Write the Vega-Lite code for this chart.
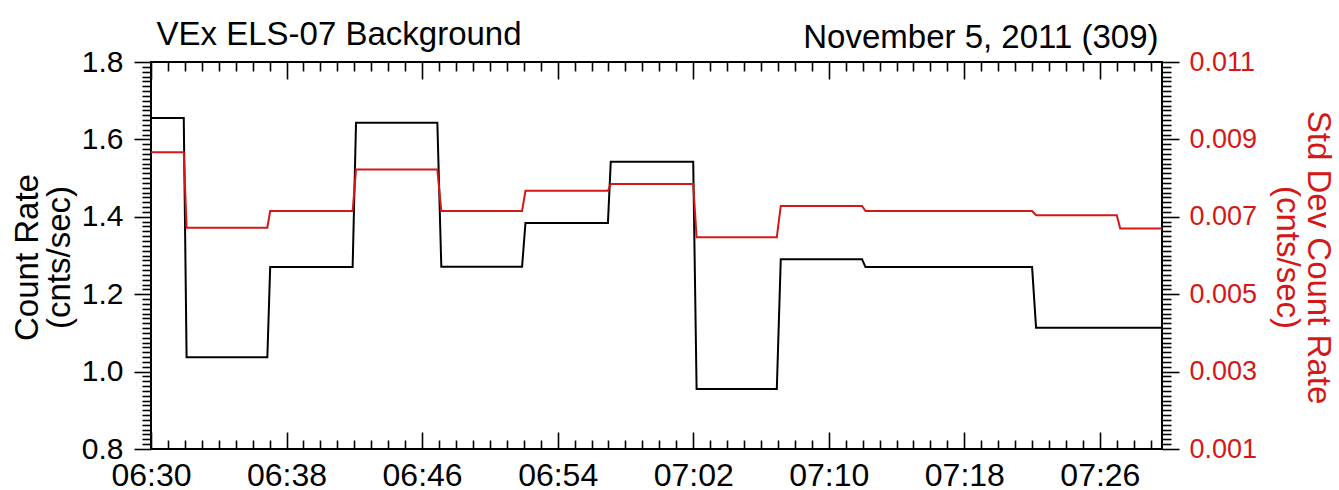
{
  "$schema": "https://vega.github.io/schema/vega-lite/v6.json",
  "autosize": {"type": "none"},
  "padding": {"left": 151, "top": 62, "right": 177, "bottom": 41},
  "width": 1011,
  "height": 387,
  "background": "white",
  "config": {
    "font": "Liberation Sans",
    "view": {"stroke": "black", "strokeWidth": 2},
    "axis": {"domain": false, "grid": false, "tickColor": "black", "tickWidth": 1.6, "labelColor": "black", "titleColor": "black", "titleFontWeight": "normal", "labelFont": "Liberation Sans", "titleFont": "Liberation Sans"}
  },
  "data": {"values": [
    {"t": "2011-11-05T06:30:00", "count": 1.655, "std": 0.00867},
    {"t": "2011-11-05T06:31:56", "count": 1.655, "std": 0.00867},
    {"t": "2011-11-05T06:32:06", "count": 1.037, "std": 0.00672},
    {"t": "2011-11-05T06:36:52", "count": 1.037, "std": 0.00672},
    {"t": "2011-11-05T06:37:02", "count": 1.270, "std": 0.00715},
    {"t": "2011-11-05T06:41:54", "count": 1.270, "std": 0.00715},
    {"t": "2011-11-05T06:42:06", "count": 1.643, "std": 0.00822},
    {"t": "2011-11-05T06:46:54", "count": 1.643, "std": 0.00822},
    {"t": "2011-11-05T06:47:08", "count": 1.271, "std": 0.00715},
    {"t": "2011-11-05T06:51:54", "count": 1.271, "std": 0.00715},
    {"t": "2011-11-05T06:52:06", "count": 1.384, "std": 0.00767},
    {"t": "2011-11-05T06:56:58", "count": 1.384, "std": 0.00767},
    {"t": "2011-11-05T06:57:08", "count": 1.542, "std": 0.00785},
    {"t": "2011-11-05T07:02:00", "count": 1.542, "std": 0.00785},
    {"t": "2011-11-05T07:02:12", "count": 0.955, "std": 0.00647},
    {"t": "2011-11-05T07:06:56", "count": 0.955, "std": 0.00647},
    {"t": "2011-11-05T07:07:10", "count": 1.290, "std": 0.00728},
    {"t": "2011-11-05T07:11:58", "count": 1.290, "std": 0.00728},
    {"t": "2011-11-05T07:12:10", "count": 1.270, "std": 0.00715},
    {"t": "2011-11-05T07:17:00", "count": 1.270, "std": 0.00715},
    {"t": "2011-11-05T07:22:00", "count": 1.270, "std": 0.00715},
    {"t": "2011-11-05T07:22:14", "count": 1.1135, "std": 0.00704},
    {"t": "2011-11-05T07:27:00", "count": 1.1135, "std": 0.00704},
    {"t": "2011-11-05T07:27:12", "count": 1.1135, "std": 0.00670},
    {"t": "2011-11-05T07:29:40", "count": 1.1135, "std": 0.00670}
  ]},
  "layer": [
    {
      "layer": [
        {
          "mark": {"type": "line", "color": "black", "strokeWidth": 2},
          "encoding": {
            "x": {"field": "t", "type": "temporal",
              "scale": {"domain": [{"year": 2011, "month": 11, "date": 5, "hours": 6, "minutes": 30}, {"year": 2011, "month": 11, "date": 5, "hours": 7, "minutes": 29, "seconds": 40}]},
              "axis": {"orient": "bottom", "title": null, "format": "%H:%M", "labelFlush": false, "labelOverlap": false,
                "values": [
                  {"year": 2011, "month": 11, "date": 5, "hours": 6, "minutes": 30},
                  {"year": 2011, "month": 11, "date": 5, "hours": 6, "minutes": 38},
                  {"year": 2011, "month": 11, "date": 5, "hours": 6, "minutes": 46},
                  {"year": 2011, "month": 11, "date": 5, "hours": 6, "minutes": 54},
                  {"year": 2011, "month": 11, "date": 5, "hours": 7, "minutes": 2},
                  {"year": 2011, "month": 11, "date": 5, "hours": 7, "minutes": 10},
                  {"year": 2011, "month": 11, "date": 5, "hours": 7, "minutes": 18},
                  {"year": 2011, "month": 11, "date": 5, "hours": 7, "minutes": 26}
                ],
                "tickSize": -17, "labelPadding": 53, "labelBaseline": "alphabetic", "labelFontSize": 32}},
            "y": {"field": "count", "type": "quantitative",
              "scale": {"domain": [0.8, 1.8], "zero": false, "nice": false},
              "axis": {"orient": "left", "values": [0.8, 1.0, 1.2, 1.4, 1.6, 1.8], "format": ".1f", "tickSize": 17, "labelPadding": 11, "labelFontSize": 30,
                "title": ["Count Rate", "(cnts/sec)"], "titleFontSize": 33, "titleAngle": 270, "titleX": -114, "titleY": 195, "titleAlign": "center", "titleBaseline": "alphabetic", "titleLineHeight": 32}}
          }
        },
        {
          "mark": {"type": "line", "opacity": 0},
          "encoding": {
            "x": {"field": "t", "type": "temporal",
              "axis": {"orient": "bottom", "title": null, "labels": false, "tickSize": -9,
                "values": [
                  {"year": 2011, "month": 11, "date": 5, "hours": 6, "minutes": 31}, {"year": 2011, "month": 11, "date": 5, "hours": 6, "minutes": 32}, {"year": 2011, "month": 11, "date": 5, "hours": 6, "minutes": 33}, {"year": 2011, "month": 11, "date": 5, "hours": 6, "minutes": 34}, {"year": 2011, "month": 11, "date": 5, "hours": 6, "minutes": 35}, {"year": 2011, "month": 11, "date": 5, "hours": 6, "minutes": 36}, {"year": 2011, "month": 11, "date": 5, "hours": 6, "minutes": 37},
                  {"year": 2011, "month": 11, "date": 5, "hours": 6, "minutes": 39}, {"year": 2011, "month": 11, "date": 5, "hours": 6, "minutes": 40}, {"year": 2011, "month": 11, "date": 5, "hours": 6, "minutes": 41}, {"year": 2011, "month": 11, "date": 5, "hours": 6, "minutes": 42}, {"year": 2011, "month": 11, "date": 5, "hours": 6, "minutes": 43}, {"year": 2011, "month": 11, "date": 5, "hours": 6, "minutes": 44}, {"year": 2011, "month": 11, "date": 5, "hours": 6, "minutes": 45},
                  {"year": 2011, "month": 11, "date": 5, "hours": 6, "minutes": 47}, {"year": 2011, "month": 11, "date": 5, "hours": 6, "minutes": 48}, {"year": 2011, "month": 11, "date": 5, "hours": 6, "minutes": 49}, {"year": 2011, "month": 11, "date": 5, "hours": 6, "minutes": 50}, {"year": 2011, "month": 11, "date": 5, "hours": 6, "minutes": 51}, {"year": 2011, "month": 11, "date": 5, "hours": 6, "minutes": 52}, {"year": 2011, "month": 11, "date": 5, "hours": 6, "minutes": 53},
                  {"year": 2011, "month": 11, "date": 5, "hours": 6, "minutes": 55}, {"year": 2011, "month": 11, "date": 5, "hours": 6, "minutes": 56}, {"year": 2011, "month": 11, "date": 5, "hours": 6, "minutes": 57}, {"year": 2011, "month": 11, "date": 5, "hours": 6, "minutes": 58}, {"year": 2011, "month": 11, "date": 5, "hours": 6, "minutes": 59}, {"year": 2011, "month": 11, "date": 5, "hours": 7, "minutes": 0}, {"year": 2011, "month": 11, "date": 5, "hours": 7, "minutes": 1},
                  {"year": 2011, "month": 11, "date": 5, "hours": 7, "minutes": 3}, {"year": 2011, "month": 11, "date": 5, "hours": 7, "minutes": 4}, {"year": 2011, "month": 11, "date": 5, "hours": 7, "minutes": 5}, {"year": 2011, "month": 11, "date": 5, "hours": 7, "minutes": 6}, {"year": 2011, "month": 11, "date": 5, "hours": 7, "minutes": 7}, {"year": 2011, "month": 11, "date": 5, "hours": 7, "minutes": 8}, {"year": 2011, "month": 11, "date": 5, "hours": 7, "minutes": 9},
                  {"year": 2011, "month": 11, "date": 5, "hours": 7, "minutes": 11}, {"year": 2011, "month": 11, "date": 5, "hours": 7, "minutes": 12}, {"year": 2011, "month": 11, "date": 5, "hours": 7, "minutes": 13}, {"year": 2011, "month": 11, "date": 5, "hours": 7, "minutes": 14}, {"year": 2011, "month": 11, "date": 5, "hours": 7, "minutes": 15}, {"year": 2011, "month": 11, "date": 5, "hours": 7, "minutes": 16}, {"year": 2011, "month": 11, "date": 5, "hours": 7, "minutes": 17},
                  {"year": 2011, "month": 11, "date": 5, "hours": 7, "minutes": 19}, {"year": 2011, "month": 11, "date": 5, "hours": 7, "minutes": 20}, {"year": 2011, "month": 11, "date": 5, "hours": 7, "minutes": 21}, {"year": 2011, "month": 11, "date": 5, "hours": 7, "minutes": 22}, {"year": 2011, "month": 11, "date": 5, "hours": 7, "minutes": 23}, {"year": 2011, "month": 11, "date": 5, "hours": 7, "minutes": 24}, {"year": 2011, "month": 11, "date": 5, "hours": 7, "minutes": 25},
                  {"year": 2011, "month": 11, "date": 5, "hours": 7, "minutes": 27}, {"year": 2011, "month": 11, "date": 5, "hours": 7, "minutes": 28}, {"year": 2011, "month": 11, "date": 5, "hours": 7, "minutes": 29}
                ]}},
            "y": {"field": "count", "type": "quantitative",
              "axis": {"orient": "left", "labels": false, "title": null, "tickSize": 9,
                "values": [0.8125, 0.825, 0.8375, 0.85, 0.8625, 0.875, 0.8875, 0.9, 0.9125, 0.925, 0.9375, 0.95, 0.9625, 0.975, 0.9875, 1.0125, 1.025, 1.0375, 1.05, 1.0625, 1.075, 1.0875, 1.1, 1.1125, 1.125, 1.1375, 1.15, 1.1625, 1.175, 1.1875, 1.2125, 1.225, 1.2375, 1.25, 1.2625, 1.275, 1.2875, 1.3, 1.3125, 1.325, 1.3375, 1.35, 1.3625, 1.375, 1.3875, 1.4125, 1.425, 1.4375, 1.45, 1.4625, 1.475, 1.4875, 1.5, 1.5125, 1.525, 1.5375, 1.55, 1.5625, 1.575, 1.5875, 1.6125, 1.625, 1.6375, 1.65, 1.6625, 1.675, 1.6875, 1.7, 1.7125, 1.725, 1.7375, 1.75, 1.7625, 1.775, 1.7875]}}
          }
        },
        {
          "mark": {"type": "line", "opacity": 0},
          "encoding": {
            "x": {"field": "t", "type": "temporal",
              "axis": {"orient": "top", "labels": false, "tickSize": -17,
                "values": [
                  {"year": 2011, "month": 11, "date": 5, "hours": 6, "minutes": 30},
                  {"year": 2011, "month": 11, "date": 5, "hours": 6, "minutes": 38},
                  {"year": 2011, "month": 11, "date": 5, "hours": 6, "minutes": 46},
                  {"year": 2011, "month": 11, "date": 5, "hours": 6, "minutes": 54},
                  {"year": 2011, "month": 11, "date": 5, "hours": 7, "minutes": 2},
                  {"year": 2011, "month": 11, "date": 5, "hours": 7, "minutes": 10},
                  {"year": 2011, "month": 11, "date": 5, "hours": 7, "minutes": 18},
                  {"year": 2011, "month": 11, "date": 5, "hours": 7, "minutes": 26}
                ],
                "title": "VEx ELS-07 Background", "titleFontSize": 33, "titleX": 5, "titleY": -18, "titleAlign": "left", "titleBaseline": "alphabetic"}},
            "y": {"field": "count", "type": "quantitative",
              "axis": {"orient": "right", "labels": false, "title": null, "tickSize": 9,
                "values": [0.8125, 0.825, 0.8375, 0.85, 0.8625, 0.875, 0.8875, 0.9, 0.9125, 0.925, 0.9375, 0.95, 0.9625, 0.975, 0.9875, 1.0125, 1.025, 1.0375, 1.05, 1.0625, 1.075, 1.0875, 1.1, 1.1125, 1.125, 1.1375, 1.15, 1.1625, 1.175, 1.1875, 1.2125, 1.225, 1.2375, 1.25, 1.2625, 1.275, 1.2875, 1.3, 1.3125, 1.325, 1.3375, 1.35, 1.3625, 1.375, 1.3875, 1.4125, 1.425, 1.4375, 1.45, 1.4625, 1.475, 1.4875, 1.5, 1.5125, 1.525, 1.5375, 1.55, 1.5625, 1.575, 1.5875, 1.6125, 1.625, 1.6375, 1.65, 1.6625, 1.675, 1.6875, 1.7, 1.7125, 1.725, 1.7375, 1.75, 1.7625, 1.775, 1.7875]}}
          }
        },
        {
          "mark": {"type": "line", "opacity": 0},
          "encoding": {
            "x": {"field": "t", "type": "temporal",
              "axis": {"orient": "top", "labels": false, "tickSize": -9,
                "values": [
                  {"year": 2011, "month": 11, "date": 5, "hours": 6, "minutes": 31}, {"year": 2011, "month": 11, "date": 5, "hours": 6, "minutes": 32}, {"year": 2011, "month": 11, "date": 5, "hours": 6, "minutes": 33}, {"year": 2011, "month": 11, "date": 5, "hours": 6, "minutes": 34}, {"year": 2011, "month": 11, "date": 5, "hours": 6, "minutes": 35}, {"year": 2011, "month": 11, "date": 5, "hours": 6, "minutes": 36}, {"year": 2011, "month": 11, "date": 5, "hours": 6, "minutes": 37},
                  {"year": 2011, "month": 11, "date": 5, "hours": 6, "minutes": 39}, {"year": 2011, "month": 11, "date": 5, "hours": 6, "minutes": 40}, {"year": 2011, "month": 11, "date": 5, "hours": 6, "minutes": 41}, {"year": 2011, "month": 11, "date": 5, "hours": 6, "minutes": 42}, {"year": 2011, "month": 11, "date": 5, "hours": 6, "minutes": 43}, {"year": 2011, "month": 11, "date": 5, "hours": 6, "minutes": 44}, {"year": 2011, "month": 11, "date": 5, "hours": 6, "minutes": 45},
                  {"year": 2011, "month": 11, "date": 5, "hours": 6, "minutes": 47}, {"year": 2011, "month": 11, "date": 5, "hours": 6, "minutes": 48}, {"year": 2011, "month": 11, "date": 5, "hours": 6, "minutes": 49}, {"year": 2011, "month": 11, "date": 5, "hours": 6, "minutes": 50}, {"year": 2011, "month": 11, "date": 5, "hours": 6, "minutes": 51}, {"year": 2011, "month": 11, "date": 5, "hours": 6, "minutes": 52}, {"year": 2011, "month": 11, "date": 5, "hours": 6, "minutes": 53},
                  {"year": 2011, "month": 11, "date": 5, "hours": 6, "minutes": 55}, {"year": 2011, "month": 11, "date": 5, "hours": 6, "minutes": 56}, {"year": 2011, "month": 11, "date": 5, "hours": 6, "minutes": 57}, {"year": 2011, "month": 11, "date": 5, "hours": 6, "minutes": 58}, {"year": 2011, "month": 11, "date": 5, "hours": 6, "minutes": 59}, {"year": 2011, "month": 11, "date": 5, "hours": 7, "minutes": 0}, {"year": 2011, "month": 11, "date": 5, "hours": 7, "minutes": 1},
                  {"year": 2011, "month": 11, "date": 5, "hours": 7, "minutes": 3}, {"year": 2011, "month": 11, "date": 5, "hours": 7, "minutes": 4}, {"year": 2011, "month": 11, "date": 5, "hours": 7, "minutes": 5}, {"year": 2011, "month": 11, "date": 5, "hours": 7, "minutes": 6}, {"year": 2011, "month": 11, "date": 5, "hours": 7, "minutes": 7}, {"year": 2011, "month": 11, "date": 5, "hours": 7, "minutes": 8}, {"year": 2011, "month": 11, "date": 5, "hours": 7, "minutes": 9},
                  {"year": 2011, "month": 11, "date": 5, "hours": 7, "minutes": 11}, {"year": 2011, "month": 11, "date": 5, "hours": 7, "minutes": 12}, {"year": 2011, "month": 11, "date": 5, "hours": 7, "minutes": 13}, {"year": 2011, "month": 11, "date": 5, "hours": 7, "minutes": 14}, {"year": 2011, "month": 11, "date": 5, "hours": 7, "minutes": 15}, {"year": 2011, "month": 11, "date": 5, "hours": 7, "minutes": 16}, {"year": 2011, "month": 11, "date": 5, "hours": 7, "minutes": 17},
                  {"year": 2011, "month": 11, "date": 5, "hours": 7, "minutes": 19}, {"year": 2011, "month": 11, "date": 5, "hours": 7, "minutes": 20}, {"year": 2011, "month": 11, "date": 5, "hours": 7, "minutes": 21}, {"year": 2011, "month": 11, "date": 5, "hours": 7, "minutes": 22}, {"year": 2011, "month": 11, "date": 5, "hours": 7, "minutes": 23}, {"year": 2011, "month": 11, "date": 5, "hours": 7, "minutes": 24}, {"year": 2011, "month": 11, "date": 5, "hours": 7, "minutes": 25},
                  {"year": 2011, "month": 11, "date": 5, "hours": 7, "minutes": 27}, {"year": 2011, "month": 11, "date": 5, "hours": 7, "minutes": 28}, {"year": 2011, "month": 11, "date": 5, "hours": 7, "minutes": 29}
                ],
                "title": "November 5, 2011 (309)", "titleFontSize": 33, "titleX": 1007, "titleY": -15, "titleAlign": "right", "titleBaseline": "alphabetic"}},
            "y": {"field": "count", "type": "quantitative", "axis": null}
          }
        }
      ],
      "resolve": {"axis": {"x": "independent", "y": "independent"}}
    },
    {
      "mark": {"type": "line", "color": "#d41818", "strokeWidth": 2},
      "encoding": {
        "x": {"field": "t", "type": "temporal", "axis": null},
        "y": {"field": "std", "type": "quantitative",
          "scale": {"domain": [0.001, 0.011], "zero": false, "nice": false},
          "axis": {"orient": "right", "values": [0.001, 0.003, 0.005, 0.007, 0.009, 0.011], "format": ".3f", "tickSize": 17, "labelPadding": 10, "labelFontSize": 27, "labelColor": "#d41818",
            "title": ["Std Dev Count Rate", "(cnts/sec)"], "titleColor": "#d41818", "titleFontSize": 33, "titleAngle": 90, "titleX": 145, "titleY": 195, "titleAlign": "center", "titleBaseline": "alphabetic", "titleLineHeight": 31}}
      }
    }
  ],
  "resolve": {"scale": {"y": "independent"}, "axis": {"x": "independent", "y": "independent"}}
}
